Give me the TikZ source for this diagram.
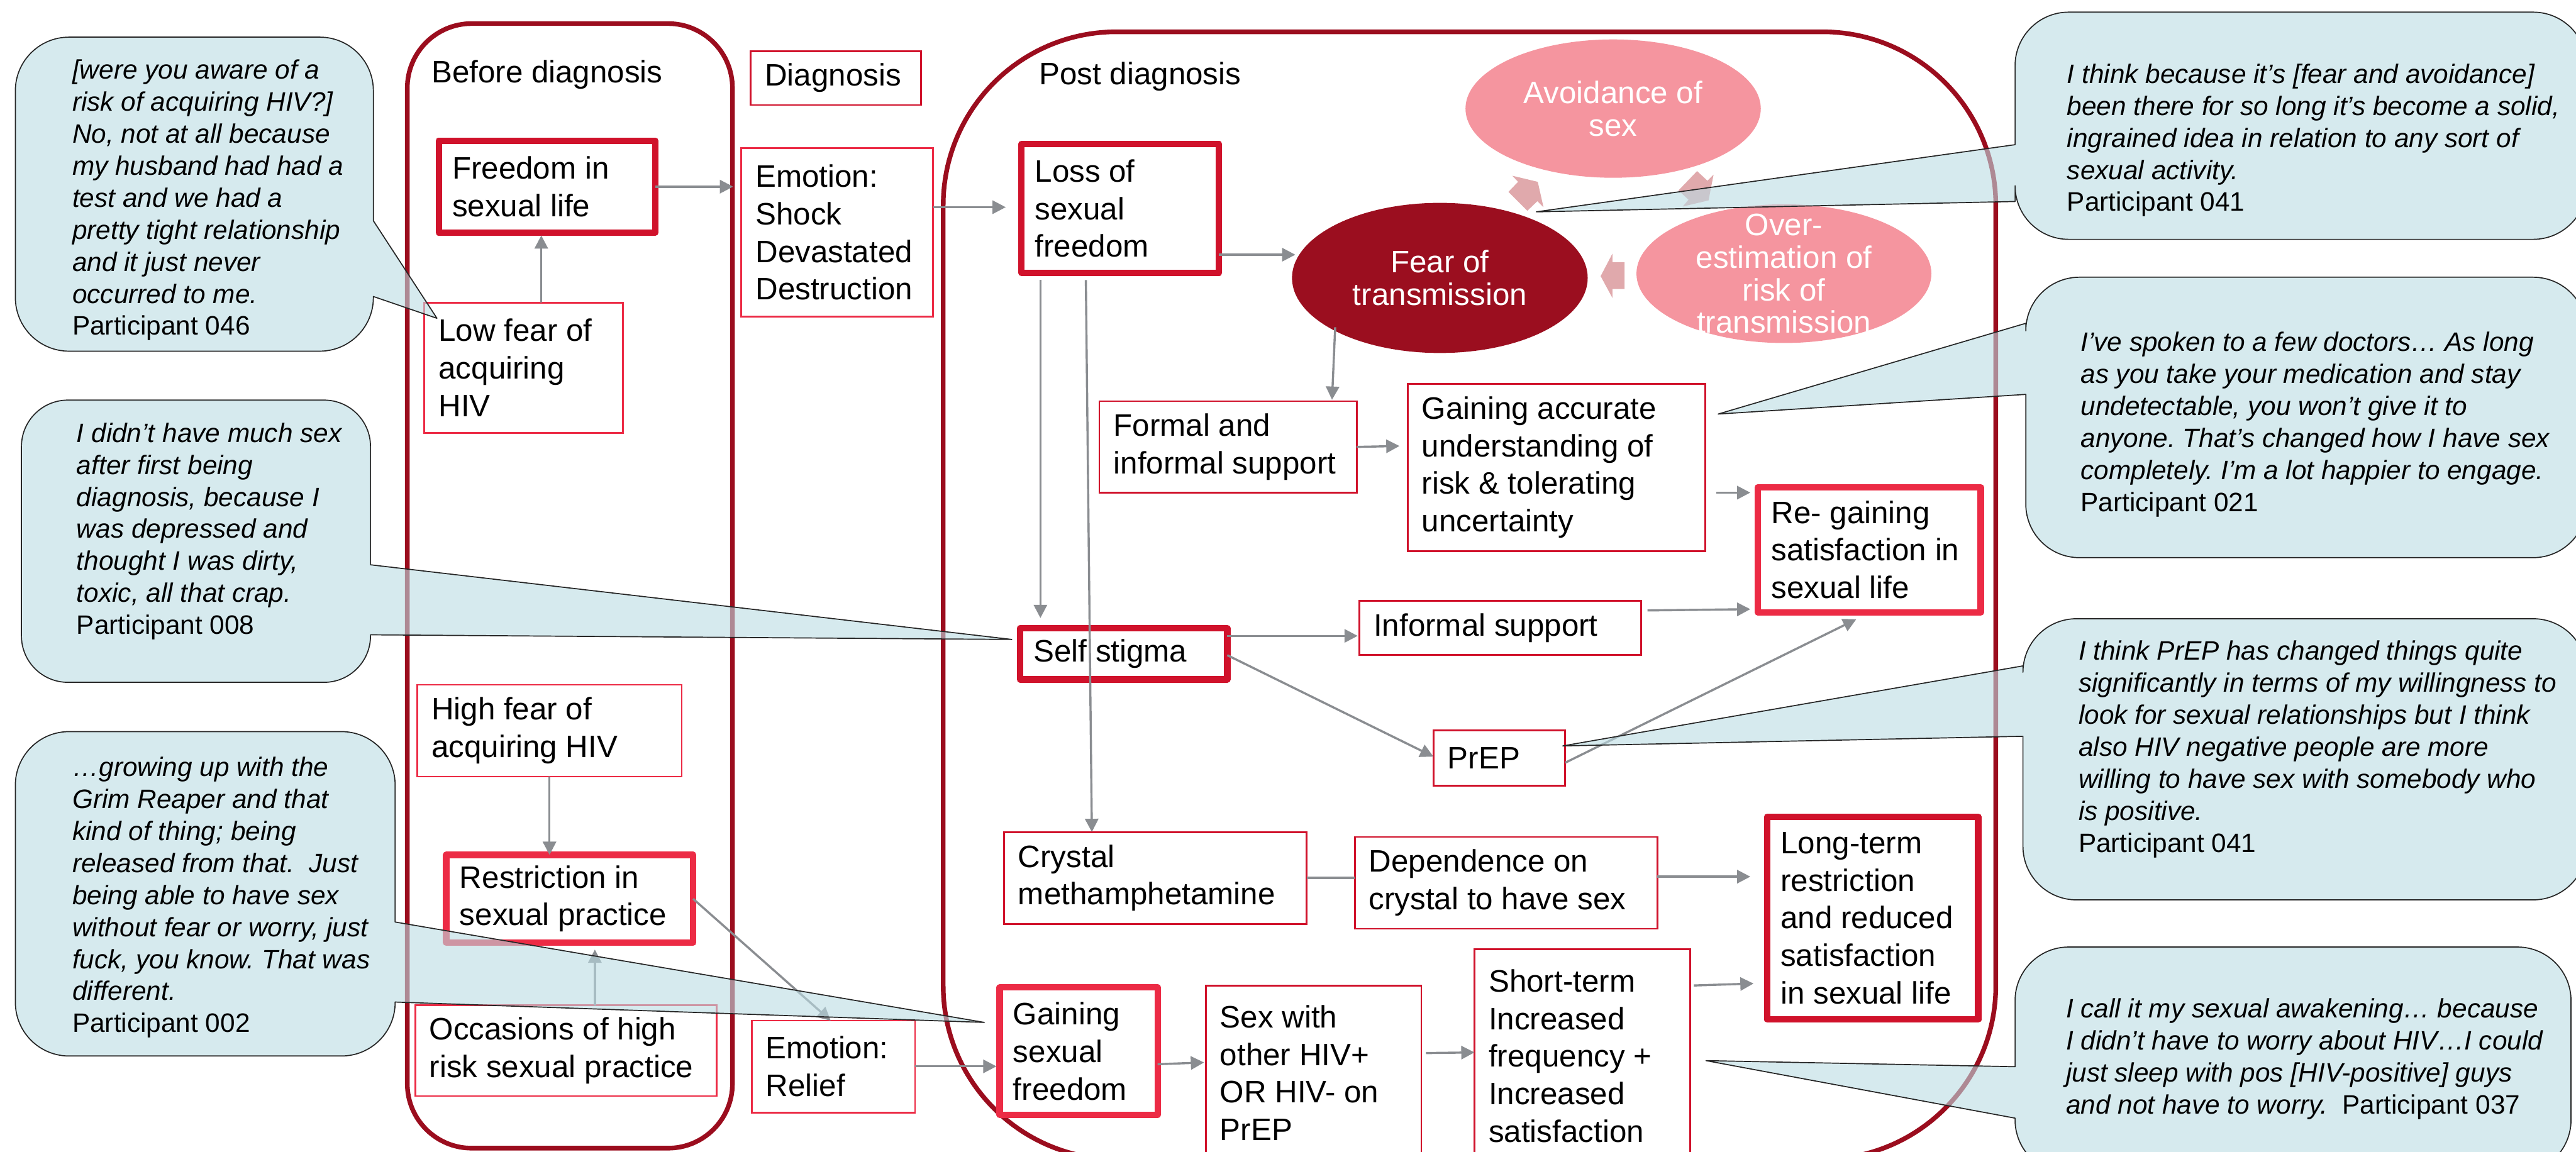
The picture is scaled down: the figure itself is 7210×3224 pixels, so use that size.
\documentclass[tikz,border=0pt]{standalone}
\usepackage{fontspec}
\setmainfont{Liberation Sans}
\usetikzlibrary{shapes.geometric,arrows.meta,calc}
\frenchspacing
\definecolor{cont}{RGB}{155,13,30}
\definecolor{rdark}{RGB}{208,18,43}
\definecolor{rbright}{RGB}{236,43,69}
\definecolor{arrgray}{RGB}{138,141,145}
\definecolor{bubfill}{RGB}{187,220,227}
\definecolor{pinkell}{RGB}{245,149,159}
\definecolor{fearred}{RGB}{155,14,31}
\definecolor{blockpink}{RGB}{224,169,172}
% box: name, L, T, R, B, style, pad(cm), text
\newcommand\mkbox[8]{%
  \pgfmathsetmacro\mkbw{(#4-#2)*0.01}%
  \pgfmathsetmacro\mkbh{(#5-#3)*0.01}%
  \node[#6, minimum width=\mkbw cm, minimum height=\mkbh cm] (#1) at ({(#2+#4)/2},{(#3+#5)/2}) {};
  \node[boxtext] (#1-t) at ([xshift=#7cm]#1.west) {#8};}
% bubble with wedge on right side: L,T,R,B,y1,y2,tipx,tipy,r
\newcommand\bubR[9]{%
  \path[bub] ({#1+#9},#2) -- ({#3-#9},#2) arc[start angle=270,end angle=360,radius=#9]
    -- (#3,#5) -- (#7,#8) -- (#3,#6) -- (#3,{#4-#9}) arc[start angle=0,end angle=90,radius=#9]
    -- ({#1+#9},#4) arc[start angle=90,end angle=180,radius=#9]
    -- (#1,{#2+#9}) arc[start angle=180,end angle=270,radius=#9] -- cycle;}
% bubble with wedge on left side
\newcommand\bubL[9]{%
  \path[bub] ({#1+#9},#2) -- ({#3-#9},#2) arc[start angle=270,end angle=360,radius=#9]
    -- (#3,{#4-#9}) arc[start angle=0,end angle=90,radius=#9]
    -- ({#1+#9},#4) arc[start angle=90,end angle=180,radius=#9]
    -- (#1,#6) -- (#7,#8) -- (#1,#5)
    -- (#1,{#2+#9}) arc[start angle=180,end angle=270,radius=#9] -- cycle;}
\begin{document}
\begin{tikzpicture}[x=0.01cm,y=-0.01cm,
  boxthin/.style={draw, fill=white, line width=0.05cm, outer sep=0pt, inner sep=0pt, rectangle},
  boxthick/.style={draw, fill=white, line width=0.18cm, line join=round, outer sep=0pt, inner sep=0pt, rectangle},
  boxtext/.style={inner sep=0pt, align=left, anchor=west, font=\fontsize{24.7}{29.9}\selectfont},
  lbl/.style={inner sep=0pt, anchor=base west, font=\fontsize{24.7}{29.9}\selectfont},
  ellshape/.style={ellipse, inner sep=0pt, draw=none},
  elltext/.style={inner sep=0pt, align=center, text=white, font=\fontsize{24.7}{25.9}\selectfont},
  arr/.style={draw=arrgray, line width=0.06cm, -{Triangle[length=0.37cm,width=0.37cm]}},
  con/.style={draw=arrgray, line width=0.06cm},
  container/.style={draw=cont, line width=0.13cm},
  bub/.style={fill=bubfill, fill opacity=0.6, draw=black!85, line width=0.03cm, line join=round},
  bubtext/.style={inner sep=0pt, align=left, anchor=north west, font=\fontsize{21.2}{25.5}\selectfont\itshape, execute at begin node={\rule{0pt}{0.8em}}},
  blk/.style={fill=blockpink, draw=none}]
\useasboundingbox (0,0) rectangle (7210,3224);
\clip (0,0) rectangle (7210,3224);
\fill[white] (0,0) rectangle (7210,3224);

% containers
\draw[container, rounded corners=1.8cm] (1140,66) rectangle (2050,3214);
\draw[container, rounded corners=4.85cm] (2640,89) rectangle (5586,3245);
\node[lbl] (lbefore) at (1207,232) {Before diagnosis};
\node[lbl] (lpost) at (2908,236) {Post diagnosis};

% ellipses
\node[ellshape, fill=pinkell, minimum width=8.26cm, minimum height=3.87cm] (avoid) at (4515,304) {};
\node[elltext] (avoid-t) at (avoid.center) {Avoidance of\\sex};
\node[ellshape, fill=fearred, minimum width=8.27cm, minimum height=4.2cm] (fear) at (4030,778) {};
\node[elltext] (fear-t) at (fear.center) {Fear of\\transmission};
\node[ellshape, fill=pinkell, minimum width=8.25cm, minimum height=3.88cm] (over) at (4993,766) {};
\node[elltext] (over-t) at (over.center) {Over-\\estimation of\\risk of\\transmission};

% block arrows of the cycle
\fill[blk] (4304,509) -- (4233,492) -- (4249,509) -- (4222,537) -- (4275,590) -- (4303,563) -- (4320,580) -- cycle;
\fill[blk] (4782,561) -- (4796,489) -- (4779,506) -- (4750,479) -- (4698,533) -- (4726,559) -- (4710,578) -- cycle;
\fill[blk] (4480,773) -- (4513,710) -- (4513,734) -- (4547,734) -- (4547,809) -- (4513,809) -- (4513,834) -- cycle;

% boxes
\mkbox{diag}{2101}{143}{2578}{294}{boxthin, draw=rdark}{0.39}{Diagnosis}
\mkbox{emo}{2075}{415}{2612}{886}{boxthin, draw=rbright}{0.39}{Emotion:\\Shock\\Devastated\\Destruction}
\mkbox{lowfear}{1188}{847}{1743}{1212}{boxthin, draw=rbright}{0.39}{Low fear of\\acquiring\\HIV}
\mkbox{highfear}{1168}{1917}{1908}{2174}{boxthin, draw=rbright}{0.39}{High fear of\\acquiring HIV}
\mkbox{occ}{1162}{2814}{2006}{3068}{boxthin, draw=rbright}{0.39}{Occasions of high\\risk sexual practice}
\mkbox{relief}{2104}{2857}{2561}{3114}{boxthin, draw=rbright}{0.39}{Emotion:\\Relief}
\mkbox{formal}{3077}{1123}{3797}{1379}{boxthin, draw=rdark}{0.39}{Formal and\\informal support}
\mkbox{gacc}{3940}{1074}{4773}{1543}{boxthin, draw=rdark}{0.39}{Gaining accurate\\understanding of\\risk \& tolerating\\uncertainty}
\mkbox{informal}{3805}{1682}{4594}{1834}{boxthin, draw=rdark}{0.39}{Informal support}
\mkbox{prep}{4012}{2044}{4381}{2199}{boxthin, draw=rdark}{0.39}{PrEP}
\mkbox{crystal}{2810}{2329}{3657}{2586}{boxthin, draw=rdark}{0.39}{Crystal\\methamphetamine}
\mkbox{dep}{3792}{2343}{4639}{2600}{boxthin, draw=rdark}{0.39}{Dependence on\\crystal to have sex}
\mkbox{short}{4127}{2657}{4730}{3255}{boxthin, draw=rdark}{0.39}{Short-term\\Increased\\frequency +\\Increased\\satisfaction}
\mkbox{sexwith}{3375}{2759}{3978}{3247}{boxthin, draw=rdark}{0.39}{Sex with\\other HIV+\\OR HIV- on\\PrEP}
\mkbox{freedom}{1228}{394}{1834}{651}{boxthick, draw=rdark}{0.37}{Freedom in\\sexual life}
\mkbox{loss}{2859}{403}{3412}{764}{boxthick, draw=rdark}{0.37}{Loss of\\sexual\\freedom}
\mkbox{self}{2855}{1758}{3435}{1902}{boxthick, draw=rdark}{0.37}{Self stigma}
\mkbox{regain}{4920}{1364}{5544}{1714}{boxthick, draw=rbright}{0.37}{Re- gaining\\satisfaction in\\sexual life}
\mkbox{restr}{1249}{2393}{1940}{2639}{boxthick, draw=rbright}{0.37}{Restriction in\\sexual practice}
\mkbox{gsf}{2798}{2764}{3240}{3121}{boxthick, draw=rbright}{0.37}{Gaining\\sexual\\freedom}
\mkbox{longterm}{4946}{2286}{5537}{2854}{boxthick, draw=rdark}{0.37}{Long-term\\restriction\\and reduced\\satisfaction\\in sexual life}

% connectors
\draw[arr, shorten >=0.23cm] (freedom.east) -- (freedom.east -| emo.west);
\draw[arr, shorten >=0.08cm] (1515,0 |- lowfear.north) -- (1515,0 |- freedom.south);
\draw[arr, shorten >=0.44cm] (emo.east |- 0,580) -- (loss.west |- 0,580);
\draw[arr, shorten >=-0.1cm] (loss.east |- 0,713) -- (fear.west |- 0,713);
\draw[arr, shorten >=0.04cm] ($(fear.center)+(-293,138)$) -- (3728,0 |- formal.north);
\draw[arr, shorten <=0.2cm, shorten >=0.28cm] (2912,0 |- loss.south) -- (2912,0 |- self.north);
\draw[arr, shorten <=0.2cm] (3039,0 |- loss.south) -- (3056,0 |- crystal.north);
\draw[arr, shorten >=0.23cm] (formal.east |- 0,1251) -- (gacc.west |- 0,1248);
\draw[arr, shorten <=0.31cm, shorten >=0.21cm] (gacc.east |- 0,1379) -- (regain.west |- 0,1379);
\draw[arr, shorten >=0.05cm] (self.east |- 0,1780) -- (informal.west |- 0,1780);
\draw[arr, shorten <=0.17cm, shorten >=0.21cm] (informal.east |- 0,1709) -- (regain.west |- 0,1705);
\draw[arr] (self.east |- 0,1834) -- (prep.west |- 0,2118);
\draw[arr, shorten >=0.44cm] (prep.east |- 0,2135) -- (5235,0 |- regain.south);
\draw[con] (crystal.east |- 0,2457) -- (dep.west |- 0,2457);
\draw[arr, shorten >=0.47cm] (dep.east |- 0,2454) -- (longterm.west |- 0,2454);
\draw[arr, shorten <=0.11cm, shorten >=0.38cm] (short.east |- 0,2759) -- (longterm.west |- 0,2752);
\draw[arr, shorten >=0.05cm] (gsf.east |- 0,2979) -- (sexwith.west |- 0,2974);
\draw[arr, shorten <=0.13cm] (sexwith.east |- 0,2948) -- (short.west |- 0,2946);
\draw[arr, shorten >=0.09cm] (relief.east |- 0,2985) -- (gsf.west |- 0,2985);
\draw[arr] (restr.east |- 0,2516) -- (2325,0 |- relief.north);
\draw[arr, shorten >=0.19cm] (1665,0 |- occ.north) -- (1665,0 |- restr.south);
\draw[arr] (1538,0 |- highfear.south) -- (1538,0 |- restr.north);

% speech bubbles
\bubR{43}{104}{1045}{983}{618}{830}{1223}{891}{150}
\bubR{60}{1120}{1037}{1910}{1581}{1777}{2832}{1790}{130}
\bubR{43}{2048}{1106}{2956}{2581}{2805}{2755}{2862}{150}
\bubL{5640}{34}{7240}{670}{405}{564}{4300}{593}{150}
\bubL{5670}{776}{7240}{1561}{905}{1104}{4809}{1159}{150}
\bubL{5662}{1732}{7240}{2519}{1864}{2061}{4374}{2088}{150}
\bubL{5640}{2651}{7196}{3285}{2986}{3130}{4775}{2969}{150}

\node[bubtext] (q046) at (202,166) {[were you aware of a\\risk of acquiring HIV?]\\No, not at all because\\my husband had had a\\test and we had a\\pretty tight relationship\\and it just never\\occurred to me.\\{\upshape Participant 046}};
\node[bubtext] (q008) at (214,1183) {I didn’t have much sex\\after first being\\diagnosis, because I\\was depressed and\\thought I was dirty,\\toxic, all that crap.\\{\upshape Participant 008}};
\node[bubtext] (q002) at (202,2118) {…growing up with the\\Grim Reaper and that\\kind of thing; being\\released from that.\ \ Just\\being able to have sex\\without fear or worry, just\\fuck, you know. That was\\different.\\{\upshape Participant 002}};
\node[bubtext] (q041a) at (5785,178) {I think because it’s [fear and avoidance]\\been there for so long it’s become a solid,\\ingrained idea in relation to any sort of\\sexual activity.\\{\upshape Participant 041}};
\node[bubtext] (q021) at (5823,929) {I’ve spoken to a few doctors… As long\\as you take your medication and stay\\undetectable, you won’t give it to\\anyone. That’s changed how I have sex\\completely. I’m a lot happier to engage.\\{\upshape Participant 021}};
\node[bubtext] (q041b) at (5817,1793) {I think PrEP has changed things quite\\significantly in terms of my willingness to\\look for sexual relationships but I think\\also HIV negative people are more\\willing to have sex with somebody who\\is positive.\\{\upshape Participant 041}};
\node[bubtext] (q037) at (5782,2794) {I call it my sexual awakening… because\\I didn’t have to worry about HIV…I could\\just sleep with pos [HIV-positive] guys\\and not have to worry.\ \ {\upshape Participant 037}};
\end{tikzpicture}
\end{document}
